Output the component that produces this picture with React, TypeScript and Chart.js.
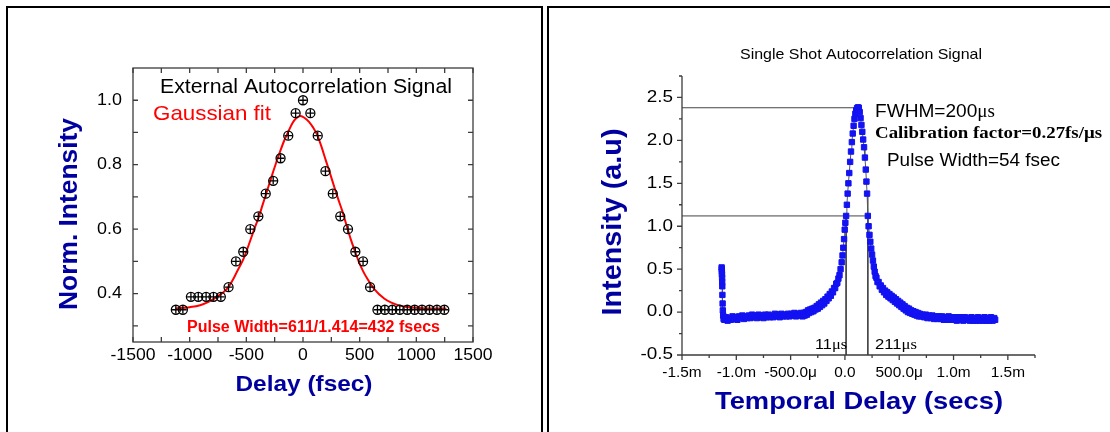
import React, { useEffect, useRef } from "react";
import { Chart, registerables } from "chart.js";
Chart.register(...registerables);

// ---------------- Left chart data (External Autocorrelation) ----------------
const extDelay = [-1122, -1060, -989, -924, -855, -790, -725, -657, -592, -527, -465, -394, -329, -263, -198, -130, -65, 0, 65, 130, 198, 263, 329, 397, 462, 530, 592, 657, 722, 788, 854, 920, 985, 1050, 1116, 1182, 1247];
const extIntensity = [0.35, 0.35, 0.39, 0.39, 0.39, 0.39, 0.39, 0.42, 0.5, 0.53, 0.6, 0.64, 0.71, 0.75, 0.82, 0.89, 0.96, 1.0, 0.96, 0.89, 0.78, 0.71, 0.64, 0.6, 0.53, 0.5, 0.42, 0.35, 0.35, 0.35, 0.35, 0.35, 0.35, 0.35, 0.35, 0.35, 0.35];

const fitDelay = [-1125, -1000, -908, -830, -761, -700, -658, -620, -584, -525, -466, -430, -392, -355, -318, -280, -243, -205, -169, -130, -95, -60, -21, 15, 53, 90, 126, 163, 200, 237, 274, 310, 347, 384, 421, 458, 495, 530, 568, 627, 716, 780, 863, 950, 1050, 1158, 1265];
const fitIntensity = [0.354, 0.358, 0.364, 0.375, 0.39, 0.405, 0.42, 0.442, 0.467, 0.508, 0.564, 0.6, 0.636, 0.677, 0.718, 0.76, 0.8, 0.838, 0.872, 0.902, 0.928, 0.944, 0.951, 0.945, 0.933, 0.915, 0.892, 0.856, 0.815, 0.775, 0.733, 0.694, 0.656, 0.612, 0.569, 0.532, 0.497, 0.47, 0.446, 0.415, 0.385, 0.372, 0.362, 0.357, 0.355, 0.354, 0.354];

const leftXTickMarks = [-1500, -1250, -1000, -750, -500, -250, 0, 250, 500, 750, 1000, 1250, 1500];
const leftXTickLabels = [-1500, -1000, -500, 0, 500, 1000, 1500];
const leftYTickMarks = [0.3, 0.4, 0.5, 0.6, 0.7, 0.8, 0.9, 1.0];
const leftYTickLabels = [0.4, 0.6, 0.8, 1.0];

// ---------------- Right chart data (Single Shot Autocorrelation), time in µs ----------------
const sigTime = [
  // spike at the start of the trace
  -1135, -1134, -1133, -1132, -1131, -1130, -1129, -1128, -1126, -1124, -1121, -1117,
  // flat baseline
  -1110, -1095, -1080, -1065, -1050, -1035, -1020, -1005, -990, -975, -960, -945, -930, -915, -900, -885, -870, -855, -840, -825, -810, -795, -780, -765, -750, -735, -720, -705, -690, -675, -660, -645, -630, -615, -600, -585, -570, -555, -540, -525, -510, -495, -480, -465, -450, -435, -420, -405,
  // rising wing
  -390, -380, -370, -360, -350, -340, -330, -320, -310, -300, -290, -280, -270, -260, -250, -240, -230, -220, -210, -200, -190, -180, -170, -160, -150, -140, -130, -120, -110, -100, -90, -80, -70, -60, -50,
  // peak
  -40, -30, -22, -15, -8, -2, 4, 11, 18, 25, 32, 40, 48, 56, 64, 72, 80, 88, 96, 104, 112, 120, 128,
  136, 144, 152, 160, 168, 176, 184, 192, 198, 204, 211, 218, 226, 234, 242, 250, 258, 266, 274,
  // falling wing
  282, 290, 300, 310, 320, 330, 340, 350, 360, 370, 380, 390, 400, 410, 420, 430, 440, 450, 460, 470, 480, 490, 500, 510, 520, 530, 540, 550, 560, 570, 580, 590, 600, 610, 620, 630, 640, 650, 660, 670, 680, 690,
  // tail
  700, 715, 730, 745, 760, 775, 790, 805, 820, 835, 850, 865, 880, 895, 910, 925, 940, 955, 970, 985, 1000, 1015, 1030, 1045, 1060, 1075, 1090, 1105, 1120, 1135, 1150, 1165, 1180, 1195, 1210, 1225, 1240, 1255, 1270, 1285, 1300, 1315, 1330, 1345, 1360, 1375, 1383,
];
const sigIntensity = [
  0.52, 0.5, 0.47, 0.44, 0.4, 0.35, 0.3, 0.2, 0.1, 0.02, -0.04, -0.08,
  -0.09, -0.06, -0.1, -0.07, -0.09, -0.05, -0.08, -0.06, -0.09, -0.05, -0.07, -0.04, -0.08, -0.05, -0.07, -0.04, -0.07, -0.03, -0.06, -0.04, -0.07, -0.03, -0.06, -0.04, -0.07, -0.03, -0.06, -0.03, -0.06, -0.04, -0.06, -0.02, -0.05, -0.03, -0.06, -0.02, -0.05, -0.03, -0.05, -0.02, -0.05, -0.02, -0.04, -0.01, -0.05, -0.02, -0.04, -0.01,
  -0.05, -0.01, -0.04, 0.0, -0.03, 0.02, -0.01, 0.03, 0.0, 0.04, 0.01, 0.05, 0.03, 0.07, 0.04, 0.09, 0.06, 0.11, 0.08, 0.13, 0.1, 0.15, 0.13, 0.18, 0.16, 0.21, 0.19, 0.24, 0.23, 0.28, 0.28, 0.33, 0.34, 0.39, 0.43,
  0.5, 0.58, 0.66, 0.75, 0.85, 0.96, 1.04, 1.12, 1.25, 1.38, 1.5, 1.62, 1.75, 1.87, 1.98, 2.08, 2.17, 2.25, 2.31, 2.35, 2.375, 2.385, 2.38,
  2.33, 2.26, 2.18, 2.1, 2.01, 1.92, 1.8, 1.66, 1.52, 1.38, 1.12, 1.0, 0.9, 0.82, 0.74, 0.67, 0.6, 0.53, 0.47,
  0.42, 0.4, 0.35, 0.35, 0.3, 0.31, 0.26, 0.28, 0.23, 0.25, 0.2, 0.23, 0.18, 0.21, 0.16, 0.19, 0.14, 0.17, 0.12, 0.15, 0.1, 0.13, 0.08, 0.11, 0.06, 0.09, 0.04, 0.07, 0.02, 0.05, 0.0, 0.04, -0.01, 0.02, -0.02, 0.01, -0.03, 0.0, -0.04, -0.01, -0.05, -0.02,
  -0.05, -0.03, -0.06, -0.03, -0.07, -0.04, -0.07, -0.04, -0.08, -0.05, -0.08, -0.05, -0.08, -0.05, -0.09, -0.06, -0.09, -0.05, -0.09, -0.06, -0.09, -0.06, -0.1, -0.06, -0.09, -0.06, -0.1, -0.06, -0.09, -0.07, -0.1, -0.06, -0.1, -0.07, -0.1, -0.06, -0.1, -0.07, -0.1, -0.06, -0.1, -0.07, -0.1, -0.06, -0.1, -0.07, -0.09,
];

// FWHM construction (levels and edges)
const peakLevel = 2.38;
const peakTime = 112;
const halfLevel = 1.12;
const edgeLeft = 11;
const edgeRight = 211;

const rightXTickMarks = [-1500, -1000, -500, 0, 500, 1000, 1500];
const rightXMinorMarks = [-1250, -750, -250, 250, 750, 1250, 1750];
const rightXTickLabels = ["-1.5m", "-1.0m", "-500.0\u03bc", "0.0", "500.0\u03bc", "1.0m", "1.5m"];
const rightYTickMarks = [-0.5, 0, 0.5, 1.0, 1.5, 2.0, 2.5];
const rightYMinorMarks = [-0.25, 0.25, 0.75, 1.25, 1.75, 2.25, 2.75];
const rightYTickLabels = ["-0.5", "0.0", "0.5", "1.0", "1.5", "2.0", "2.5"];

// ---------------- drawing helpers ----------------
const SANS = '"Liberation Sans", Arial, Helvetica, sans-serif';
const SERIF = '"Liberation Serif", "Times New Roman", Times, serif';
const NAVY = "#0000a0";

type Seg = { text: string; font: string };
type TOpts = { color: string; align?: "left" | "center" | "right"; sx?: number; width?: number; rotate?: boolean; baseline?: CanvasTextBaseline };

function drawText(ctx: CanvasRenderingContext2D, segs: Seg[], x: number, y: number, o: TOpts) {
  ctx.save();
  let W = 0;
  const widths = segs.map((s) => {
    ctx.font = s.font;
    const w = ctx.measureText(s.text).width;
    W += w;
    return w;
  });
  const sx = o.width ? o.width / W : o.sx ?? 1;
  ctx.translate(x, y);
  if (o.rotate) ctx.rotate(-Math.PI / 2);
  ctx.scale(sx, 1);
  let cx = o.align === "center" ? -W / 2 : o.align === "right" ? -W : 0;
  ctx.fillStyle = o.color;
  ctx.textAlign = "left";
  ctx.textBaseline = o.baseline ?? "alphabetic";
  segs.forEach((s, i) => {
    ctx.font = s.font;
    ctx.fillText(s.text, cx, 0);
    cx += widths[i];
  });
  ctx.restore();
}

const leftAxesPlugin = {
  id: "leftAxes",
  afterDraw(chart: any) {
    const ctx: CanvasRenderingContext2D = chart.ctx;
    const a = chart.chartArea;
    const xs = chart.scales.x;
    const ys = chart.scales.y;
    ctx.save();
    ctx.strokeStyle = "#3c3c3c";
    ctx.lineWidth = 1.3;
    ctx.strokeRect(a.left, a.top, a.right - a.left, a.bottom - a.top);
    ctx.beginPath();
    leftXTickMarks.forEach((v) => {
      const px = xs.getPixelForValue(v);
      ctx.moveTo(px, a.bottom);
      ctx.lineTo(px, a.bottom - 5);
      ctx.moveTo(px, a.top);
      ctx.lineTo(px, a.top + 5);
    });
    leftYTickMarks.forEach((v) => {
      const py = ys.getPixelForValue(v);
      ctx.moveTo(a.left, py);
      ctx.lineTo(a.left + 5, py);
      ctx.moveTo(a.right, py);
      ctx.lineTo(a.right - 5, py);
    });
    ctx.stroke();
    ctx.restore();

    const tickFont = `16px ${SANS}`;
    leftXTickLabels.forEach((v) => {
      drawText(ctx, [{ text: String(v), font: tickFont }], xs.getPixelForValue(v), a.bottom + 14, { color: "#000", align: "center", sx: 1.1, baseline: "middle" });
    });
    leftYTickLabels.forEach((v) => {
      drawText(ctx, [{ text: v.toFixed(1), font: tickFont }], a.left - 11, ys.getPixelForValue(v), { color: "#000", align: "right", sx: 1.12, baseline: "middle" });
    });

    drawText(ctx, [{ text: "External Autocorrelation Signal", font: `20px ${SANS}` }], 160, 93, { color: "#000", width: 292 });
    drawText(ctx, [{ text: "Gaussian fit", font: `21px ${SANS}` }], 153, 120, { color: "#ff0000", width: 118 });
    drawText(ctx, [{ text: "Pulse Width=611/1.414=432 fsecs", font: `bold 16px ${SANS}` }], 187, 332, { color: "#ff0000", width: 253 });
    drawText(ctx, [{ text: "Delay (fsec)", font: `bold 22px ${SANS}` }], 304, 391, { color: NAVY, align: "center", width: 137 });
    drawText(ctx, [{ text: "Norm. Intensity", font: `bold 26px ${SANS}` }], 70, 214, { color: NAVY, align: "center", width: 192, rotate: true, baseline: "middle" });
  },
};

const rightAxesPlugin = {
  id: "rightAxes",
  afterDraw(chart: any) {
    const ctx: CanvasRenderingContext2D = chart.ctx;
    const a = chart.chartArea;
    const xs = chart.scales.x;
    const ys = chart.scales.y;
    ctx.save();
    ctx.strokeStyle = "#3c3c3c";
    ctx.lineWidth = 1.3;
    ctx.beginPath();
    ctx.moveTo(a.left, a.top);
    ctx.lineTo(a.left, a.bottom);
    ctx.lineTo(a.right, a.bottom);
    rightYTickMarks.forEach((v) => {
      const py = ys.getPixelForValue(v);
      ctx.moveTo(a.left, py);
      ctx.lineTo(a.left - 5, py);
    });
    rightYMinorMarks.forEach((v) => {
      const py = ys.getPixelForValue(v);
      ctx.moveTo(a.left, py);
      ctx.lineTo(a.left - 3, py);
    });
    rightXTickMarks.forEach((v) => {
      const px = xs.getPixelForValue(v);
      ctx.moveTo(px, a.bottom);
      ctx.lineTo(px, a.bottom + 5);
    });
    rightXMinorMarks.forEach((v) => {
      const px = xs.getPixelForValue(v);
      ctx.moveTo(px, a.bottom);
      ctx.lineTo(px, a.bottom + 3);
    });
    ctx.stroke();
    ctx.restore();

    rightYTickMarks.forEach((v, i) => {
      drawText(ctx, [{ text: rightYTickLabels[i], font: `16px ${SANS}` }], a.left - 9, ys.getPixelForValue(v), { color: "#000", align: "right", sx: 1.18, baseline: "middle" });
    });
    rightXTickMarks.forEach((v, i) => {
      drawText(ctx, [{ text: rightXTickLabels[i], font: `14px ${SANS}` }], xs.getPixelForValue(v), a.bottom + 18, { color: "#000", align: "center", sx: 1.1, baseline: "middle" });
    });

    drawText(ctx, [{ text: "Single Shot Autocorrelation Signal", font: `15px ${SANS}` }], 861, 59, { color: "#000", align: "center", width: 242 });
    drawText(ctx, [{ text: "FWHM=200", font: `18px ${SANS}` }, { text: "\u03bcs", font: `18px ${SERIF}` }], 875, 117, { color: "#000", width: 120 });
    drawText(ctx, [{ text: "Calibration factor=0.27fs/\u03bcs", font: `bold 16px ${SERIF}` }], 875, 138, { color: "#000", width: 227 });
    drawText(ctx, [{ text: "Pulse Width=54 fsec", font: `18px ${SANS}` }], 887, 166, { color: "#000", width: 173 });
    drawText(ctx, [{ text: "11", font: `15px ${SANS}` }, { text: "\u03bcs", font: `15px ${SERIF}` }], 815, 349, { color: "#000", width: 32 });
    drawText(ctx, [{ text: "211", font: `15px ${SANS}` }, { text: "\u03bcs", font: `15px ${SERIF}` }], 875, 349, { color: "#000", width: 42 });
    drawText(ctx, [{ text: "Temporal Delay (secs)", font: `bold 24px ${SANS}` }], 859, 409, { color: NAVY, align: "center", width: 288 });
    drawText(ctx, [{ text: "Intensity (a.u)", font: `bold 27px ${SANS}` }], 614, 222, { color: NAVY, align: "center", width: 187, rotate: true, baseline: "middle" });
  },
};

function toPoints(xs: number[], ys: number[]) {
  return xs.map((x, i) => ({ x, y: ys[i] }));
}

export default function App() {
  const leftRef = useRef<HTMLCanvasElement>(null);
  const rightRef = useRef<HTMLCanvasElement>(null);

  useEffect(() => {
    const W = 1110;
    const H = 432;
    const extPts = toPoints(extDelay, extIntensity);
    const left = new Chart(leftRef.current as HTMLCanvasElement, {
      type: "scatter",
      data: {
        datasets: [
          {
            data: toPoints(fitDelay, fitIntensity),
            showLine: true,
            borderColor: "#ff0000",
            borderWidth: 2,
            pointRadius: 0,
            cubicInterpolationMode: "monotone",
            order: 3,
          } as any,
          {
            data: extPts,
            pointStyle: "circle",
            pointRadius: 4.5,
            pointBorderColor: "#000",
            pointBackgroundColor: "rgba(255,255,255,0)",
            pointBorderWidth: 1.3,
            order: 2,
          },
          {
            data: extPts,
            pointStyle: "cross",
            pointRadius: 3.8,
            pointBorderColor: "#000",
            pointBorderWidth: 1.3,
            order: 1,
          },
        ],
      },
      options: {
        responsive: false,
        animation: false,
        layout: { padding: { left: 133, top: 68, right: W - 473, bottom: H - 342 } },
        plugins: { legend: { display: false }, tooltip: { enabled: false } },
        scales: {
          x: { type: "linear", min: -1500, max: 1500, display: false },
          y: { type: "linear", min: 0.25, max: 1.1, display: false },
        },
      },
      plugins: [leftAxesPlugin],
    });

    const lineStyle = { showLine: true, borderColor: "#444", borderWidth: 1, pointRadius: 0 };
    const right = new Chart(rightRef.current as HTMLCanvasElement, {
      type: "scatter",
      data: {
        datasets: [
          { ...lineStyle, data: [{ x: -1500, y: peakLevel }, { x: peakTime, y: peakLevel }], order: 5 },
          { ...lineStyle, data: [{ x: -1500, y: halfLevel }, { x: edgeRight, y: halfLevel }], order: 5 },
          { ...lineStyle, data: [{ x: edgeLeft, y: halfLevel }, { x: edgeLeft, y: -0.5 }], order: 5 },
          { ...lineStyle, data: [{ x: edgeRight, y: halfLevel }, { x: edgeRight, y: -0.5 }], order: 5 },
          {
            data: toPoints(sigTime, sigIntensity),
            showLine: true,
            borderColor: "#555",
            borderWidth: 1,
            pointStyle: "rect",
            pointRadius: 3.8,
            pointBackgroundColor: "#1212f2",
            pointBorderColor: "#1212f2",
            pointBorderWidth: 1,
            order: 1,
          },
        ],
      },
      options: {
        responsive: false,
        animation: false,
        layout: { padding: { left: 682, top: 76, right: W - 1035, bottom: H - 355 } },
        plugins: { legend: { display: false }, tooltip: { enabled: false } },
        scales: {
          x: { type: "linear", min: -1500, max: 1750, display: false },
          y: { type: "linear", min: -0.5, max: 2.75, display: false },
        },
      },
      plugins: [rightAxesPlugin],
    });

    return () => {
      left.destroy();
      right.destroy();
    };
  }, []);

  return (
    <div style={{ position: "absolute", left: 0, top: 0, width: 1110, height: 432, background: "#fff", overflow: "hidden" }}>
      <div style={{ position: "absolute", left: 6, top: 6, width: 537, height: 460, border: "2.5px solid #000", boxSizing: "border-box" }} />
      <div style={{ position: "absolute", left: 547, top: 6, width: 600, height: 460, border: "2.5px solid #000", boxSizing: "border-box" }} />
      <canvas ref={leftRef} width={1110} height={432} style={{ position: "absolute", left: 0, top: 0 }} />
      <canvas ref={rightRef} width={1110} height={432} style={{ position: "absolute", left: 0, top: 0 }} />
    </div>
  );
}
